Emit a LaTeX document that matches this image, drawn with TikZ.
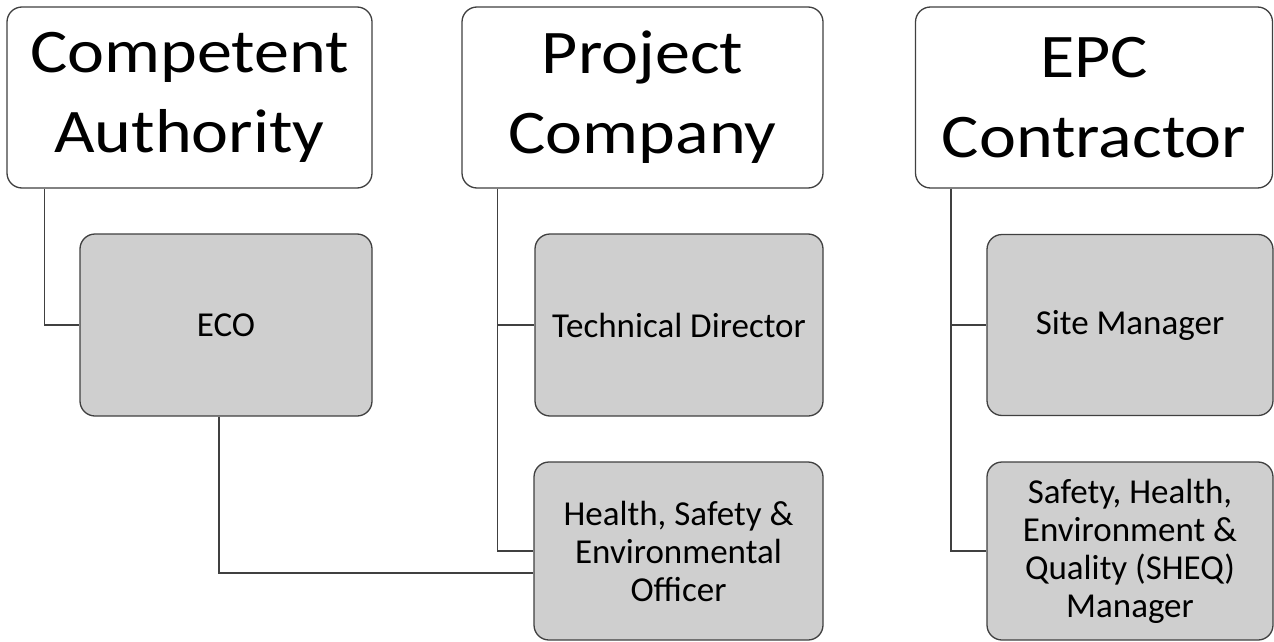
\documentclass[tikz,border=0pt]{standalone}
\usepackage{fontspec}
\setmainfont{Carlito}
\newfontfamily\topfont[FakeStretch=1.13]{Carlito}
\begin{document}
\begin{tikzpicture}[x=1pt,y=-1pt,
  topbox/.style={draw=black!75, line width=1.3pt, fill=white, rounded corners=15pt,
    align=center, inner sep=0pt, font=\topfont\fontsize{62}{80}\selectfont},
  graybox/.style={draw=black!75, line width=1.3pt, fill=black!19, rounded corners=15pt,
    align=center, inner sep=0pt, font=\fontsize{35}{38}\selectfont},
  conn/.style={draw=black!75, line width=1.3pt}]
\useasboundingbox[fill=white] (0,0) rectangle (1274,642);
\node[topbox, minimum width=365pt, minimum height=181pt] (A) at (189.5,97.5) {Competent\\Authority};
\node[topbox, minimum width=361pt, minimum height=181pt] (B) at (642.5,97.5) {Project\\Company};
\node[topbox, minimum width=357pt, minimum height=181pt] (C) at (1094,97.5) {EPC\\Contractor};
\node[graybox, minimum width=292pt, minimum height=182pt] (ECO) at (226,325) {ECO};
\node[graybox, minimum width=288pt, minimum height=182pt] (TD) at (679,325) {Technical Director};
\node[graybox, minimum width=289pt, minimum height=178pt] (HSE) at (678.5,551) {Health, Safety \&\\Environmental\\Officer};
\node[graybox, minimum width=286pt, minimum height=181pt] (SM) at (1130,325) {Site Manager};
\node[graybox, minimum width=286pt, minimum height=178pt] (SHEQ) at (1130,551) {Safety, Health,\\Environment \&\\Quality (SHEQ)\\Manager};
\draw[conn] ([xshift=38pt]A.south west) |- (ECO.west);
\draw[conn] ([xshift=-7pt]ECO.south) |- ([yshift=-22pt]HSE.west);
\draw[conn] ([xshift=36pt]B.south west) |- (TD.west);
\draw[conn] ([xshift=36pt]B.south west) |- (HSE.west);
\draw[conn] ([xshift=36pt]C.south west) |- (SM.west);
\draw[conn] ([xshift=36pt]C.south west) |- (SHEQ.west);
\end{tikzpicture}
\end{document}
